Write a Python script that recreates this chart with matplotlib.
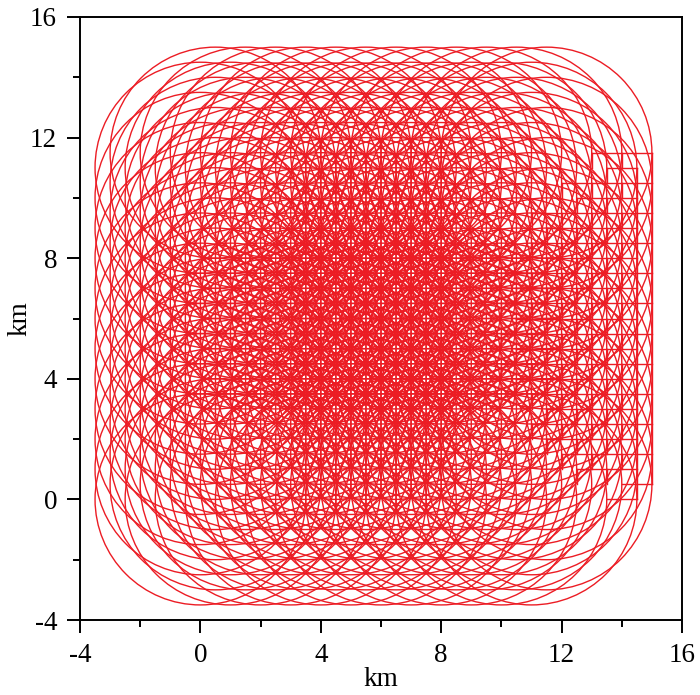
"""
Overlapping circular flight tracks on a staggered grid of centres.
"""

import matplotlib
matplotlib.use("Agg")
import matplotlib.pyplot as plt
from matplotlib.patches import Circle

# =============== DATA ==================
RADIUS_KM = 3.5
EVEN_ROW_X = [0, 1, 2, 3, 4, 5, 6, 7, 8, 9, 10, 11]
ODD_ROW_X = [0.5, 1.5, 2.5, 3.5, 4.5, 5.5, 6.5, 7.5, 8.5, 9.5, 10.5, 11.5]
EVEN_ROW_Y = [0, 1, 2, 3, 4, 5, 6, 7, 8, 9, 10, 11]
ODD_ROW_Y = [0.5, 1.5, 2.5, 3.5, 4.5, 5.5, 6.5, 7.5, 8.5, 9.5, 10.5, 11.5]
# where the straight links begin in each row (x, km)
EVEN_LINK_START = [13.5, 12.5, 11.5, 11, 10.5, 10, 10, 10.5, 11, 11.5, 12, 13.5]
ODD_LINK_START = [14, 12, 11, 11, 10, 10, 10, 10, 11, 11, 12, 13]
MAJOR_TICKS = [-4, 0, 4, 8, 12, 16]
MINOR_TICKS = [-2, 2, 6, 10, 14]
# =======================================

RED = "#ec1c24"
LW = 1.0
W, H = 700, 695
LEFT, RIGHT, TOP, BOTTOM = 80, 682, 17, 620

plt.rcParams["font.family"] = ["Liberation Serif", "DejaVu Serif"]
plt.rcParams["axes.unicode_minus"] = False

fig = plt.figure(figsize=(W / 100, H / 100), dpi=100)
ax = fig.add_axes([LEFT / W, 1 - BOTTOM / H, (RIGHT - LEFT) / W, (BOTTOM - TOP) / H])

rows = [(EVEN_ROW_X, EVEN_ROW_Y, EVEN_LINK_START), (ODD_ROW_X, ODD_ROW_Y, ODD_LINK_START)]
for row_x, row_y, link_start in rows:
    for cy, x0 in zip(row_y, link_start):
        for cx in row_x:
            ax.add_patch(Circle((cx, cy), RADIUS_KM, fill=False, ec=RED, lw=LW))
        # links between the start points of neighbouring circles, right side only
        starts = [cx + RADIUS_KM for cx in row_x if cx + RADIUS_KM >= x0]
        ax.plot(starts, [cy] * len(starts), color=RED, lw=LW)
        # short drops give the brick pattern
        if cy > 0.5:
            for sx in starts[:-1]:
                ax.plot([sx, sx], [cy, cy - 0.5], color=RED, lw=LW)
    # outermost column runs the whole way up
    ax.plot([row_x[-1] + RADIUS_KM] * len(row_y), row_y, color=RED, lw=LW)

ax.set_xlim(-4, 16)
ax.set_ylim(-4, 16)
ax.set_xticks(MAJOR_TICKS)
ax.set_yticks(MAJOR_TICKS)
ax.set_xticks(MINOR_TICKS, minor=True)
ax.set_yticks(MINOR_TICKS, minor=True)
ax.tick_params(which="major", length=9.5, width=1.4, labelsize=19.5, pad=7)
ax.tick_params(which="minor", length=5, width=1.4)
for spine in ax.spines.values():
    spine.set_linewidth(1.4)
ax.set_xlabel("km", fontsize=19.5, labelpad=-1)
ax.set_ylabel("km", fontsize=19.5, labelpad=-2)

fig.savefig("out.png", dpi=100)
